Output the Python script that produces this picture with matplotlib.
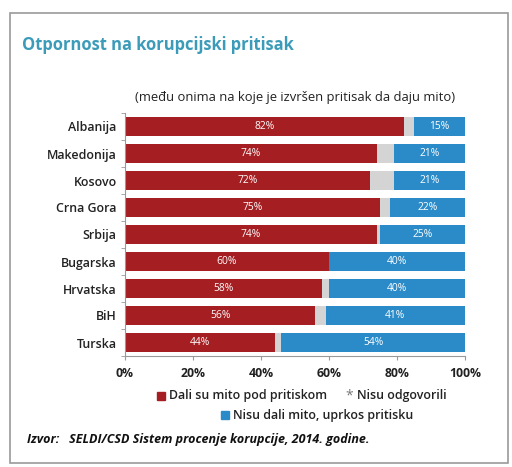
import matplotlib.pyplot as plt
import matplotlib.patches as patches

plt.rcParams['font.family'] = ['Open Sans', 'DejaVu Sans']

# data
countries = ["Albanija", "Makedonija", "Kosovo", "Crna Gora", "Srbija",
             "Bugarska", "Hrvatska", "BiH", "Turska"]
dali = [82, 74, 72, 75, 74, 60, 58, 56, 44]
nisu_odg = [3, 5, 7, 3, 1, 0, 2, 3, 2]
nisu_dali = [15, 21, 21, 22, 25, 40, 40, 41, 54]
xticks = [0, 20, 40, 60, 80, 100]

red = "#a51e22"
blue = "#2b8bc8"
grey = "#d4d4d4"
teal = "#3b9bb8"

fig = plt.figure(figsize=(5.12, 4.67), dpi=100)

# outer frame
fig.patches.append(patches.Rectangle((10 / 512, 1 - 463 / 467), 498 / 512, 450 / 467,
                                     transform=fig.transFigure, fill=False,
                                     edgecolor="#9a9a9a", lw=1.2))

fig.text(22 / 512, 1 - 45 / 467, "Otpornost na korupcijski pritisak",
         color=teal, fontsize=11.9, fontweight="bold", va="center", ha="left")
fig.text(295 / 512, 1 - 97 / 467, "(među onima na koje je izvršen pritisak da daju mito)",
         color="#222222", fontsize=9.4, va="center", ha="center")

ax = fig.add_axes([125 / 512, 1 - 356 / 467, 340 / 512, 243 / 467])
y = list(range(len(countries)))
h = 0.74
ax.barh(y, dali, height=h, color=red)
left2 = [a + b for a, b in zip(dali, nisu_odg)]
ax.barh(y, nisu_odg, left=dali, height=h, color=grey)
ax.barh(y, nisu_dali, left=left2, height=h, color=blue)

for i in y:
    ax.text(dali[i] / 2, i, f"{dali[i]}%", color="white", fontsize=7.4,
            ha="center", va="center")
    ax.text(left2[i] + nisu_dali[i] / 2, i, f"{nisu_dali[i]}%", color="white",
            fontsize=7.4, ha="center", va="center")

ax.set_ylim(len(countries) - 0.5, -0.5)
ax.set_xlim(0, 100)
ax.set_yticks(y)
ax.set_yticklabels(countries, fontsize=8.9, fontweight="semibold", color="#222222")
ax.tick_params(axis="y", length=0, pad=6)
ax.set_yticks([i + 0.5 for i in range(-1, len(countries))], minor=True)
ax.tick_params(axis="y", which="minor", length=3, color="#999999")
ax.set_xticks(xticks)
ax.set_xticklabels([f"{t}%" for t in xticks], fontsize=8.8, fontweight="bold",
                   color="#222222")
ax.tick_params(axis="x", length=3, color="#999999", pad=5)
for s in ["top", "right"]:
    ax.spines[s].set_visible(False)
for s in ["left", "bottom"]:
    ax.spines[s].set_color("#999999")
    ax.spines[s].set_linewidth(0.8)

# legend
def legend_item(x, yy, color, text, marker="s"):
    if marker == "s":
        fig.patches.append(patches.Rectangle((x / 512, 1 - (yy + 4) / 467), 8 / 512, 8 / 467,
                                             transform=fig.transFigure, color=color))
    else:
        fig.text((x + 4) / 512, 1 - yy / 467, "*", color="#777777", fontsize=10,
                 ha="center", va="center")
    fig.text((x + 12) / 512, 1 - yy / 467, text, fontsize=8.9, fontweight="semibold",
             color="#222222", ha="left", va="center")

legend_item(157, 396, red, "Dali su mito pod pritiskom")
legend_item(345, 396, grey, "Nisu odgovorili", marker="*")
legend_item(221, 415, blue, "Nisu dali mito, uprkos pritisku")

fig.text(27 / 512, 1 - 440 / 467,
         "Izvor:   SELDI/CSD Sistem procenje korupcije, 2014. godine.",
         fontsize=9.0, fontstyle="italic", fontweight="bold", color="#111111",
         ha="left", va="center")

fig.savefig("out.png", dpi=100, facecolor="white")
